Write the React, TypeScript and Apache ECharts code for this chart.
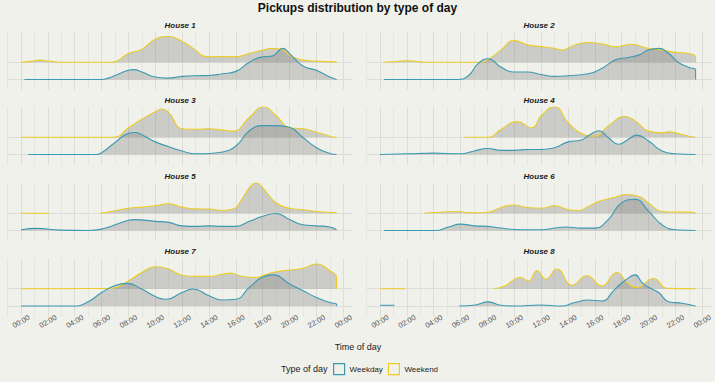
import React, { useEffect, useRef } from "react";
import * as echarts from "echarts";

// ---------- data (hour of day, density height in ridge units) ----------
const houseNames = ["House 1", "House 2", "House 3", "House 4", "House 5", "House 6", "House 7", "House 8"];
const tickLabels = ["00:00", "02:00", "04:00", "06:00", "08:00", "10:00", "12:00", "14:00", "16:00", "18:00", "20:00", "22:00", "00:00"];
const dayTypes = ["Weekday", "Weekend"];
const ridgeBaselines = [0, 1]; // Weekday, Weekend

const house1Weekday = [[0.25,0],[6,0],[6.5,0.08],[7,0.23],[8,0.53],[8.4,0.57],[9,0.43],[10,0.14],[10.9,0.08],[12,0.18],[13,0.22],[14,0.23],[15,0.33],[16,0.47],[17,1.0],[18,1.31],[18.7,1.35],[19.5,1.8],[20,1.5],[21,0.78],[22,0.53],[23,0.14],[23.5,0]];
const house1Weekend = [[0,0],[0.7,0.05],[1.4,0.12],[2.2,0.05],[2.9,0],[6.75,0],[7.1,0.05],[8,0.5],[9,0.75],[10,1.33],[11,1.49],[12,1.2],[13,0.7],[13.6,0.35],[14,0.31],[15,0.33],[16,0.31],[17,0.5],[18,0.7],[18.7,0.8],[19.5,0.7],[20,0.4],[21,0.12],[22,0.06],[23.5,0.02]];

const house2Weekday = [[0.3,0],[5.8,0],[6.6,0.23],[7.3,0.92],[8.07,1.2],[9,0.72],[10,0.43],[11,0.43],[12,0.29],[13,0.18],[14,0.22],[15.5,0.33],[16.5,0.63],[17.5,1.12],[18.5,1.27],[19.25,1.41],[20,1.7],[20.8,1.8],[21.5,1.5],[22.2,1.0],[23,0.7],[23.5,0.55],[23.5,0]];
const house2Weekend = [[0.25,0],[1.2,0.04],[2,0.08],[2.8,0.04],[3.4,0],[7.6,0],[8,0.12],[9,0.7],[10,1.25],[11,1.0],[12,0.9],[13,0.8],[13.5,0.7],[14.5,1.0],[15.5,1.14],[16.5,1.06],[17.5,0.9],[18.75,1.04],[19.75,0.84],[21,0.7],[22,0.57],[23,0.5],[23.5,0.27],[23.5,0]];

const house3Weekday = [[0.55,0],[5.6,0],[6,0.1],[7,0.69],[8,1.22],[8.5,1.27],[9,1.14],[10,0.73],[11,0.45],[12,0.2],[13,0.04],[14,0.06],[15,0.14],[16,0.49],[17,1.37],[18,1.67],[19,1.67],[20,1.57],[21,0.98],[22,0.39],[23,0.06],[23.5,0]];
const house3Weekend = [[0,0],[6.9,0],[8,0.55],[9,1.04],[10,1.47],[10.5,1.63],[11,1.43],[12,0.49],[13,0.45],[14,0.49],[15,0.41],[15.8,0.35],[17,1.14],[18.06,1.76],[19,1.24],[20,0.55],[21,0.49],[22,0.29],[23,0.06],[23.5,0]];

const house4Weekday = [[0,0],[2,0.04],[4,0.08],[6,0.04],[7,0.2],[8,0.35],[9,0.24],[10,0.24],[11,0.29],[12,0.29],[13,0.39],[14,0.73],[15,0.84],[15.5,1.08],[16.3,1.37],[17,0.98],[17.75,0.59],[18.5,0.88],[19.1,1.12],[20,0.78],[21,0.2],[22,0.04],[23.5,0]];
const house4Weekend = [[6.3,0],[8.07,0],[9,0.45],[10.2,0.9],[11.3,0.55],[12,1.24],[13,1.76],[14,0.84],[15,0.22],[16,0.06],[17,0.65],[18.25,1.2],[19,0.94],[20,0.35],[21,0.25],[21.5,0.31],[22,0.25],[23,0.06],[23.5,0]];

const house5Weekday = [[0,0.04],[1.2,0.12],[2.9,0.02],[5,0],[6,0.08],[7,0.33],[8,0.59],[8.4,0.63],[10,0.53],[11,0.47],[12,0.27],[13,0.24],[14,0.27],[15,0.24],[16,0.24],[17,0.53],[18,0.82],[19,0.98],[20,0.63],[21,0.33],[22,0.27],[23,0.2],[23.5,0.04]];
const house5Weekend = [[0,0],[2.1,0],[4,null],[5.9,0],[7,0.14],[8,0.29],[9,0.35],[10,0.43],[11,0.55],[12,0.35],[13,0.25],[14,0.24],[15,0.16],[15.8,0.24],[16.5,0.88],[17.1,1.57],[17.5,1.76],[18,1.47],[19,0.59],[20,0.29],[21,0.2],[22,0.1],[23.5,0.04]];

const house6Weekday = [[0.3,0],[4.1,0],[5.1,0.2],[6,0.37],[7,0.27],[8,0.24],[9,0.14],[10,0.06],[11,0.04],[12,0.04],[13,0.14],[13.8,0.2],[15,0.14],[16,0.14],[17,0.63],[18,1.6],[19,1.8],[20,1.12],[21,0.33],[22,0.04],[23.5,0]];
const house6Weekend = [[3.3,0],[4.1,0.04],[5.8,0.1],[6.8,0.02],[7.95,0.04],[9,0.33],[9.9,0.47],[11,0.33],[12,0.29],[13,0.43],[14,0.2],[14.8,0.16],[15.5,0.39],[16.5,0.73],[17.5,0.92],[18.4,1.08],[19.25,0.98],[20,0.59],[21,0.1],[22,0.06],[23,0.06],[23.5,0.02]];

const house7Weekday = [[0,0],[3.9,0],[5,0.24],[6,0.78],[7,1.18],[7.9,1.31],[9,0.98],[10,0.55],[10.8,0.39],[12,0.78],[12.8,0.98],[14,0.59],[15,0.35],[16,0.39],[17,1.08],[18,1.67],[18.8,1.8],[20,1.27],[21,0.88],[22,0.49],[23,0.2],[23.5,0.1],[23.5,0]];
const house7Weekend = [[0,0],[6.5,0.01],[7,0.06],[8,0.45],[9,0.94],[10,1.27],[11,1.14],[12,0.78],[13,0.71],[14,0.71],[15,0.84],[15.6,0.9],[16.5,0.71],[17.5,0.65],[18.3,0.84],[19,0.98],[20,1.08],[21,1.18],[22,1.43],[23,1.04],[23.5,0.65],[23.5,0]];

const house8Weekday = [[0,0.04],[1.07,0.04],[3,null],[5.9,0],[7.1,0.06],[8.07,0.24],[9,0.04],[10,0],[12,0.06],[13.5,0],[14.5,0.2],[15.5,0.35],[16.5,0.29],[17.5,0.98],[18.25,1.47],[19,1.8],[19.5,1.37],[20,1.08],[20.75,0.78],[21.5,0.25],[22.5,0.16],[23.5,0]];
const house8Weekend = [[0,0],[1.9,0],[5,null],[8.45,0],[9.3,0.16],[10.43,0.65],[11.06,0.45],[11.68,1.04],[12.35,0.55],[13.17,1.14],[14.3,0.2],[15.4,0.75],[16.5,0.16],[17.64,0.94],[18.4,0.35],[19.1,0.06],[20.37,0.59],[21.4,0.02],[23.5,0]];

const houseSeries = [
  [house1Weekday, house1Weekend],
  [house2Weekday, house2Weekend],
  [house3Weekday, house3Weekend],
  [house4Weekday, house4Weekend],
  [house5Weekday, house5Weekend],
  [house6Weekday, house6Weekend],
  [house7Weekday, house7Weekend],
  [house8Weekday, house8Weekend],
];

// ---------- styling ----------
const BG = "#F1F1EC";
const GRID_MAJOR = "#DDDDD7";
const GRID_MINOR = "#E6E6E1";
const TEAL = "#3B9AB2";
const YELLOW = "#EBCC2A";
const FILL = "rgba(128,128,128,0.34)";
const FONT = "'Liberation Sans', Arial, Helvetica, sans-serif";

const colLefts = [7.6, 366.6];
const gridWidth = 345.1;
const rowTops = [32, 107, 183, 258.5];
const gridHeight = 58;
const Y_MIN = -0.607;
const Y_MAX = 2.746;
const X_MIN = -1;
const X_MAX = 24.7;

export default function App() {
  const ref = useRef<HTMLDivElement | null>(null);

  useEffect(() => {
    if (!ref.current) return;
    const chart = echarts.init(ref.current, undefined, { renderer: "svg" });

    const grids: any[] = [];
    const xAxes: any[] = [];
    const yAxes: any[] = [];
    const series: any[] = [];
    const graphics: any[] = [];

    houseNames.forEach((name, k) => {
      const row = Math.floor(k / 2);
      const col = k % 2;
      const left = colLefts[col];
      const top = rowTops[row];
      grids.push({ left, top, width: gridWidth, height: gridHeight, containLabel: false });
      const bottomRow = row === rowTops.length - 1;
      xAxes.push({
        type: "value",
        gridIndex: k,
        min: X_MIN,
        max: X_MAX,
        interval: 1,
        axisLine: { show: false },
        axisTick: { show: false },
        axisLabel: {
          show: bottomRow,
          interval: 0,
          hideOverlap: false,
          rotate: 30,
          align: "center",
          verticalAlign: "middle",
          margin: 5,
          fontSize: 7.5,
          color: "#555555",
          fontFamily: FONT,
          formatter: (v: number) => {
            const r = Math.round(v);
            if (Math.abs(v - r) > 1e-6 || r < 0 || r > 24 || r % 2 !== 0) return "";
            return tickLabels[r / 2];
          },
        },
        splitLine: {
          show: true,
          showMaxLine: false,
          lineStyle: { color: [GRID_MINOR, GRID_MAJOR], width: 1 },
        },
      });
      yAxes.push({
        type: "value",
        gridIndex: k,
        min: Y_MIN,
        max: Y_MAX,
        axisLine: { show: false },
        axisTick: { show: false },
        axisLabel: { show: false },
        splitLine: { show: false },
      });

      // horizontal grid lines at ridge baselines (kept beneath the ridges)
      series.push({
        type: "line",
        xAxisIndex: k,
        yAxisIndex: k,
        data: [],
        z: 0,
        silent: true,
        markLine: {
          silent: true,
          z: 0,
          symbol: ["none", "none"],
          label: { show: false },
          lineStyle: { color: GRID_MAJOR, width: 1, type: "solid" },
          emphasis: { disabled: true },
          data: ridgeBaselines.map((b) => ({ yAxis: b })),
        },
      });

      // weekend first (drawn behind), weekday on top
      [1, 0].forEach((idx) => {
        const base = ridgeBaselines[idx];
        const color = idx === 0 ? TEAL : YELLOW;
        const pts = houseSeries[k][idx];
        series.push({
          type: "line",
          name: dayTypes[idx],
          xAxisIndex: k,
          yAxisIndex: k,
          smooth: 0.5,
          symbol: "none",
          showSymbol: false,
          connectNulls: false,
          silent: true,
          z: 3,
          data: pts.map(([h, v]) => [h, v === null ? null : (v as number) + base]),
          lineStyle: { color, width: 1.1 },
          itemStyle: { color },
          areaStyle: { color: FILL, origin: base, opacity: 1 },
        });
      });

      graphics.push({
        type: "text",
        x: left + gridWidth / 2,
        y: top - 7,
        style: {
          text: name,
          x: 0,
          y: 0,
          textAlign: "center",
          textVerticalAlign: "middle",
          fontSize: 8,
          fontWeight: "bold",
          fontStyle: "italic",
          fontFamily: FONT,
          fill: "#1a1a1a",
        },
      });
    });

    graphics.push({
      type: "text",
      x: 358,
      y: 347,
      style: {
        text: "Time of day",
        textAlign: "center",
        textVerticalAlign: "middle",
        fontSize: 9,
        fontFamily: FONT,
        fill: "#1a1a1a",
      },
    });
    graphics.push({
      type: "text",
      x: 281,
      y: 369,
      style: {
        text: "Type of day",
        textAlign: "left",
        textVerticalAlign: "middle",
        fontSize: 9,
        fontFamily: FONT,
        fill: "#1a1a1a",
      },
    });

    chart.setOption({
      animation: false,
      backgroundColor: BG,
      title: {
        text: "Pickups distribution by type of day",
        left: "center",
        top: 2,
        padding: 0,
        textStyle: { fontSize: 12, fontWeight: "bold", color: "#111", fontFamily: FONT },
      },
      legend: {
        left: 333,
        top: 363,
        padding: 0,
        itemWidth: 11,
        itemHeight: 11,
        itemGap: 5,
        selectedMode: false,
        textStyle: { fontSize: 8, color: "#1a1a1a", fontFamily: FONT },
        data: [
          { name: "Weekday", icon: "rect", itemStyle: { color: BG, borderColor: TEAL, borderWidth: 1.2 } },
          { name: "Weekend", icon: "rect", itemStyle: { color: BG, borderColor: YELLOW, borderWidth: 1.2 } },
        ],
      },
      grid: grids,
      xAxis: xAxes,
      yAxis: yAxes,
      series,
      graphic: graphics,
    });

    return () => chart.dispose();
  }, []);

  return (
    <div
      ref={ref}
      style={{ position: "fixed", left: 0, top: 0, width: 715, height: 382, background: BG }}
    />
  );
}
